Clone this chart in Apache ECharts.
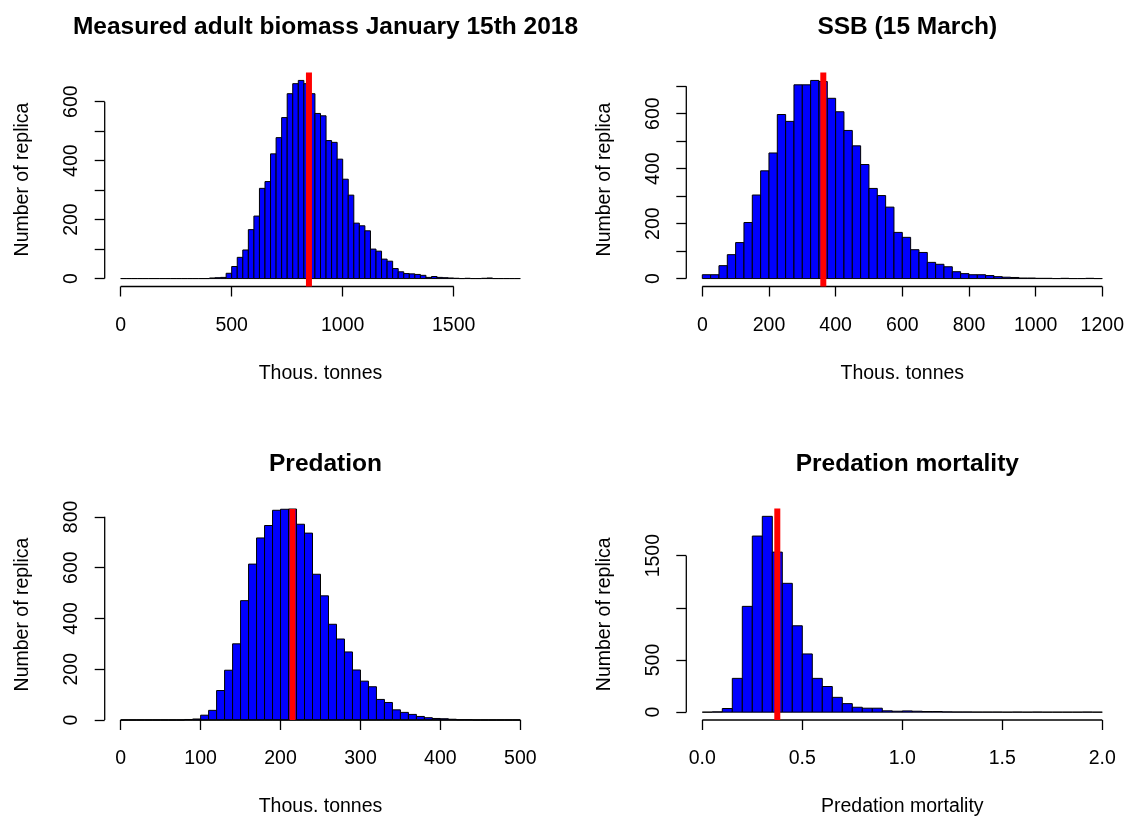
<!DOCTYPE html>
<html lang="en">
<head>
<meta charset="UTF-8">
<title>Replica histograms</title>
<script src="https://cdn.jsdelivr.net/npm/echarts@6/dist/echarts.min.js"></script>
<style>
  html, body { margin: 0; padding: 0; background: #fff; }
  #main { width: 1128px; height: 818px; }
</style>
</head>
<body>
<div id="main"></div>
<script>
// histogram bins: start, width, counts
var bioStart = 0, bioWidth = 25;
var bioCounts = [0,0,0,0,0,0,0,0,0,0,0,0,0,0,0,0,
  2,3,4,18,41,72,97,166,212,306,329,423,478,546,627,661,672,661,627,560,
  552,468,462,405,337,283,188,179,162,100,93,66,59,34,23,17,16,14,11,4,
  7,4,3,2,1,0,1,0,0,1,2,0,0,0,0,0];
var ssbStart = 0, ssbWidth = 25;
var ssbCounts = [14,14,47,87,131,204,304,392,457,597,572,705,705,721,717,656,
  607,539,483,415,328,302,260,168,150,105,95,59,52,43,25,18,14,14,11,7,
  5,4,2,2,1,1,0,1,0,0,1,0];
var predStart = 0, predWidth = 10;
var predCounts = [0,0,0,0,0,0,0,0,2,4,19,38,116,196,300,470,614,717,766,826,
  830,831,771,736,574,489,377,319,268,197,153,131,81,69,40,30,22,14,9,6,
  5,3,1,1,0,0,0,0,0,0];
var mortStart = 0, mortWidth = 0.05;
var mortCounts = [0,3,35,324,1014,1688,1877,1534,1235,828,558,324,246,142,82,47,38,38,13,9,
  12,9,6,6,3,2,2,1,1,1,0,1,0,1,0,0,0,0,1,0];

var refLines = [848, 363, 215, 0.375];
var titles = ['Measured adult biomass January 15th 2018', 'SSB (15 March)', 'Predation', 'Predation mortality'];
var xNames = ['Thous. tonnes', 'Thous. tonnes', 'Thous. tonnes', 'Predation mortality'];
var yName = 'Number of replica';
var xTicks = [[0, 500, 1000, 1500], [0, 200, 400, 600, 800, 1000, 1200], [0, 100, 200, 300, 400, 500], [0, 0.5, 1, 1.5, 2]];
var yTicks = [[0, 100, 200, 300, 400, 500, 600], [0, 100, 200, 300, 400, 500, 600, 700], [0, 200, 400, 600, 800], [0, 500, 1000, 1500]];
var yLabels = [[0, 200, 400, 600], [0, 200, 400, 600], [0, 200, 400, 600, 800], [0, 500, 1500]];

var panels = [
  {start: bioStart, width: bioWidth, counts: bioCounts, tight: false},
  {start: ssbStart, width: ssbWidth, counts: ssbCounts, tight: false},
  {start: predStart, width: predWidth, counts: predCounts, tight: true},
  {start: mortStart, width: mortWidth, counts: mortCounts, tight: false}
];
var gridPos = [
  {left: 104.7, top: 72.5, width: 431.6, height: 214},
  {left: 686.3, top: 72.5, width: 432, height: 214},
  {left: 104.7, top: 509, width: 431.6, height: 213.5},
  {left: 686.3, top: 508.5, width: 432, height: 214}
];

var font = 'Liberation Sans, Arial, sans-serif';
var myChart = echarts.init(document.getElementById('main'), null, {renderer: 'canvas'});

function histItem(params, api) {
  var p0 = api.coord([api.value(0), api.value(2)]);
  var p1 = api.coord([api.value(1), 0]);
  return {
    type: 'rect',
    shape: {x: p0[0], y: p0[1], width: p1[0] - p0[0], height: p1[1] - p0[1]},
    style: {fill: '#0000ff', stroke: '#000', lineWidth: 1}
  };
}

var grids = [], xAxes = [], yAxes = [], series = [], titleList = [];
panels.forEach(function (p, i) {
  var n = p.counts.length;
  var end = p.start + n * p.width;
  var span = end - p.start;
  var ymax = Math.max.apply(null, p.counts);
  var yLo = p.tight ? 0 : -0.04 * ymax;
  var yHi = p.tight ? ymax : 1.04 * ymax;
  var xLo = p.start - 0.04 * span, xHi = end + 0.04 * span;
  var g = gridPos[i];

  grids.push({left: g.left, top: g.top, width: g.width, height: g.height, containLabel: false});
  titleList.push({
    text: titles[i],
    left: g.left + g.width / 2,
    top: i < 2 ? 10 : 447,
    textAlign: 'center',
    textStyle: {fontFamily: font, fontSize: 24.5, fontWeight: 'bold', color: '#000'}
  });
  xAxes.push({
    type: 'value', gridIndex: i, min: xLo, max: xHi,
    name: xNames[i], nameLocation: 'middle', nameGap: 77,
    nameTextStyle: {fontFamily: font, fontSize: 19.5, color: '#000'},
    axisLine: {show: false, onZero: false},
    splitLine: {show: false},
    axisTick: {show: true, length: 10, customValues: xTicks[i], lineStyle: {color: '#000', width: 1.3}},
    axisLabel: {
      customValues: xTicks[i], margin: 29, color: '#000', fontFamily: font, fontSize: 19.5,
      formatter: function (v) { return i === 3 ? v.toFixed(1) : String(v); }
    }
  });
  yAxes.push({
    type: 'value', gridIndex: i, min: yLo, max: yHi,
    name: yName, nameLocation: 'middle', nameGap: 72, nameRotate: 90,
    nameTextStyle: {fontFamily: font, fontSize: 19.5, color: '#000'},
    axisLine: {show: false, onZero: false},
    splitLine: {show: false},
    axisTick: {show: true, length: 10, customValues: yTicks[i], lineStyle: {color: '#000', width: 1.3}},
    axisLabel: {
      customValues: yLabels[i], rotate: 90, margin: 23, color: '#000', fontFamily: font, fontSize: 19.5,
      formatter: function (v) { return String(v); }
    }
  });

  var data = p.counts.map(function (c, k) {
    return [p.start + k * p.width, p.start + (k + 1) * p.width, c];
  });
  series.push({
    type: 'custom', xAxisIndex: i, yAxisIndex: i, renderItem: histItem,
    encode: {x: [0, 1], y: 2}, data: data, silent: true
  });
  // axis lines, from first to last tick as in base R
  var xt = xTicks[i], yt = yTicks[i];
  series.push({
    type: 'line', xAxisIndex: i, yAxisIndex: i, clip: false, symbol: 'none', silent: true,
    lineStyle: {color: '#000', width: 1.3},
    data: [[xt[0], yLo], [xt[xt.length - 1], yLo]]
  });
  series.push({
    type: 'line', xAxisIndex: i, yAxisIndex: i, clip: false, symbol: 'none', silent: true,
    lineStyle: {color: '#000', width: 1.3},
    data: [[xLo, yt[0]], [xLo, yt[yt.length - 1]]]
  });
  // red reference line
  series.push({
    type: 'line', xAxisIndex: i, yAxisIndex: i, clip: false, symbol: 'none', silent: true, z: 5,
    lineStyle: {color: '#ff0000', width: 6},
    data: [[refLines[i], yLo], [refLines[i], yHi]]
  });
});

var option = {
  animation: false,
  backgroundColor: '#fff',
  title: titleList,
  grid: grids,
  xAxis: xAxes,
  yAxis: yAxes,
  series: series
};
myChart.setOption(option);
window.onresize = myChart.resize;
</script>
</body>
</html>
